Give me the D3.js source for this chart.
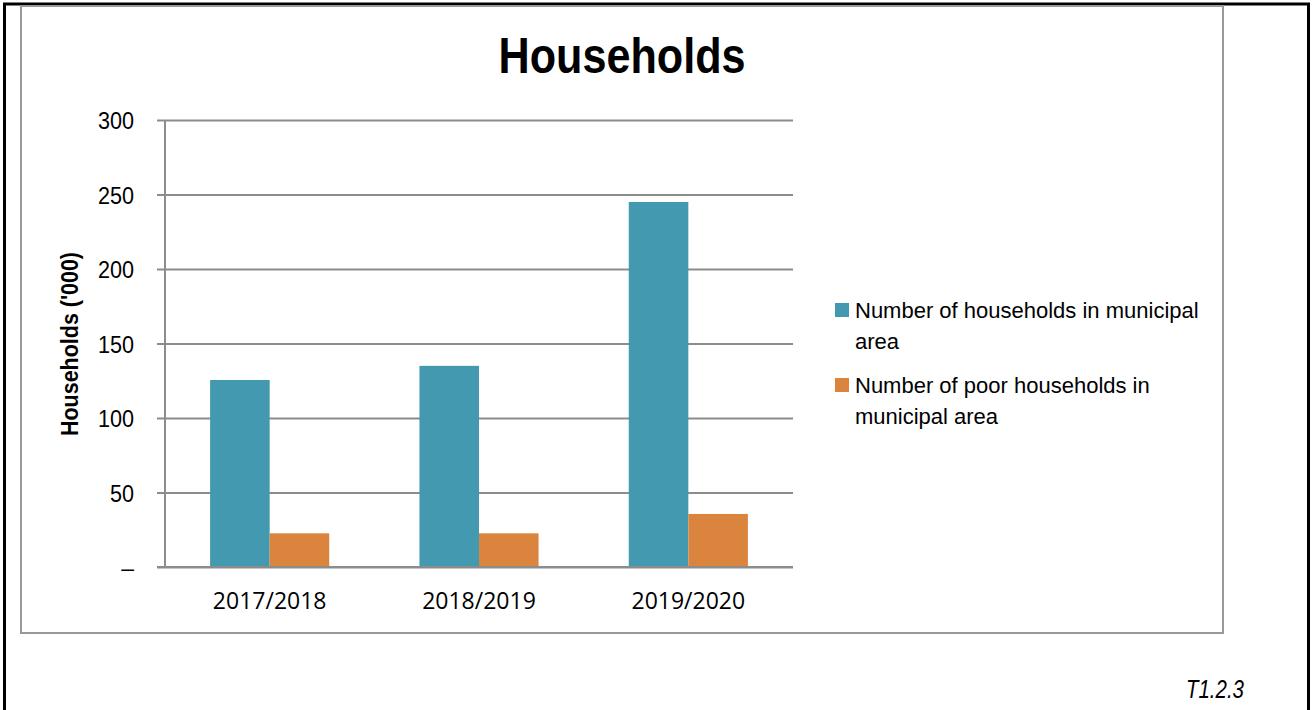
<!DOCTYPE html>
<html>
<head>
<meta charset="utf-8">
<script src="https://cdn.jsdelivr.net/npm/d3@7"></script>
<style>
  body { margin: 0; background: #fff; }
  svg { display: block; }
</style>
</head>
<body>
<svg></svg>
<script>
// data
var years = ["2017/2018", "2018/2019", "2019/2020"];
var seriesNames = ["Number of households in municipal area", "Number of poor households in municipal area"];
var households = [125.5, 135, 245];
var poorHouseholds = [22.6, 22.6, 35.6];
var yTicks = [0, 50, 100, 150, 200, 250, 300];

var width = 1314;
var height = 710;
var colors = ["#4399b0", "#db843e"];
var grey = "#8c8c8c";

var svg = d3.select("svg")
      .attr("width", width)
      .attr("height", height);

// page frame (black) and chart frame (grey)
svg.append("rect")
      .attr("x", 4.5).attr("y", 4)
      .attr("width", 1304).attr("height", 720)
      .attr("fill", "none").attr("stroke", "#000").attr("stroke-width", 3);
svg.append("rect")
      .attr("x", 21).attr("y", 6)
      .attr("width", 1202).attr("height", 627)
      .attr("fill", "#fff").attr("stroke", "#999").attr("stroke-width", 2);

var plot = { left: 165, right: 793, top: 120, bottom: 567 };

var xScale = d3.scaleBand()
      .domain(years)
      .range([plot.left, plot.right])
      .paddingInner(0.431)
      .paddingOuter(0.2155);

var xSub = d3.scaleBand()
      .domain([0, 1])
      .range([0, xScale.bandwidth()]);

var yScale = d3.scaleLinear()
      .domain([0, 300])
      .range([plot.bottom, plot.top]);

// gridlines with the little outer tick on the left
var yAxis = d3.axisLeft(yScale)
      .tickValues(yTicks)
      .tickSize(-(plot.right - plot.left))
      .tickFormat(d => d === 0 ? "\u2013" : d);

var gy = svg.append("g")
      .attr("transform", "translate(" + plot.left + ",0)")
      .call(yAxis);
gy.select(".domain").remove();
gy.selectAll(".tick line")
      .attr("x1", -8)
      .attr("stroke", grey)
      .attr("stroke-width", 2);
gy.selectAll(".tick text")
      .attr("x", -31)
      .attr("dy", "0.37em")
      .attr("fill", "#000")
      .style("font-family", "'Liberation Sans', Arial, sans-serif")
      .style("font-size", "23px")
      .attr("lengthAdjust", "spacingAndGlyphs")
      .attr("textLength", d => d === 0 ? null : String(d).length * 12);

// vertical axis line
svg.append("line")
      .attr("x1", plot.left).attr("x2", plot.left)
      .attr("y1", plot.top).attr("y2", plot.bottom)
      .attr("stroke", grey).attr("stroke-width", 2);

// bars
var series = [households, poorHouseholds];
series.forEach(function(values, s) {
      svg.append("g")
            .selectAll("rect")
            .data(values)
            .enter()
            .append("rect")
                  .attr("x", (d, i) => xScale(years[i]) + xSub(s))
                  .attr("y", d => yScale(d))
                  .attr("width", xSub.bandwidth())
                  .attr("height", d => yScale(0) - yScale(d))
                  .attr("fill", colors[s]);
});

// baseline on top of bars
svg.append("line")
      .attr("x1", plot.left - 8).attr("x2", plot.right)
      .attr("y1", plot.bottom).attr("y2", plot.bottom)
      .attr("stroke", grey).attr("stroke-width", 2);

// x labels
var xAxis = d3.axisBottom(xScale).tickSize(0).tickPadding(0);
var gx = svg.append("g")
      .attr("transform", "translate(0," + plot.bottom + ")")
      .call(xAxis);
gx.select(".domain").remove();
gx.selectAll(".tick text")
      .attr("y", 42)
      .attr("dy", 0)
      .attr("fill", "#000")
      .style("font-family", "'Open Sans', sans-serif")
      .style("font-size", "23px");

// title
svg.append("text")
      .attr("x", 622)
      .attr("y", 73)
      .attr("text-anchor", "middle")
      .attr("textLength", 247)
      .attr("lengthAdjust", "spacingAndGlyphs")
      .style("font-family", "'Liberation Sans', Arial, sans-serif")
      .style("font-weight", "bold")
      .style("font-size", "50px")
      .text("Households");

// y axis title
svg.append("text")
      .attr("transform", "rotate(-90)")
      .attr("x", -344)
      .attr("y", 78)
      .attr("text-anchor", "middle")
      .attr("textLength", 184)
      .attr("lengthAdjust", "spacingAndGlyphs")
      .style("font-family", "'Liberation Sans', Arial, sans-serif")
      .style("font-weight", "bold")
      .style("font-size", "23px")
      .text("Households ('000)");

// legend
var legendLines = [
      ["Number of households in municipal", "area"],
      ["Number of poor households in", "municipal area"]
];
var legend = svg.append("g");
legendLines.forEach(function(lines, i) {
      var y0 = 318 + i * 75;
      legend.append("rect")
            .attr("x", 835).attr("y", y0 - 15)
            .attr("width", 14).attr("height", 14)
            .attr("fill", colors[i]);
      var t = legend.append("text")
            .attr("x", 855).attr("y", y0)
            .style("font-family", "'Liberation Sans', Arial, sans-serif")
            .style("font-size", "22px")
            .attr("fill", "#000");
      lines.forEach(function(line, j) {
            t.append("tspan")
                  .attr("x", 855)
                  .attr("dy", j === 0 ? 0 : 31)
                  .text(line);
      });
});

// table reference
svg.append("text")
      .attr("x", 1244)
      .attr("y", 698)
      .attr("text-anchor", "end")
      .attr("textLength", 58)
      .attr("lengthAdjust", "spacingAndGlyphs")
      .style("font-family", "'Liberation Sans', Arial, sans-serif")
      .style("font-style", "italic")
      .style("font-size", "26px")
      .text("T1.2.3");
</script>
</body>
</html>
